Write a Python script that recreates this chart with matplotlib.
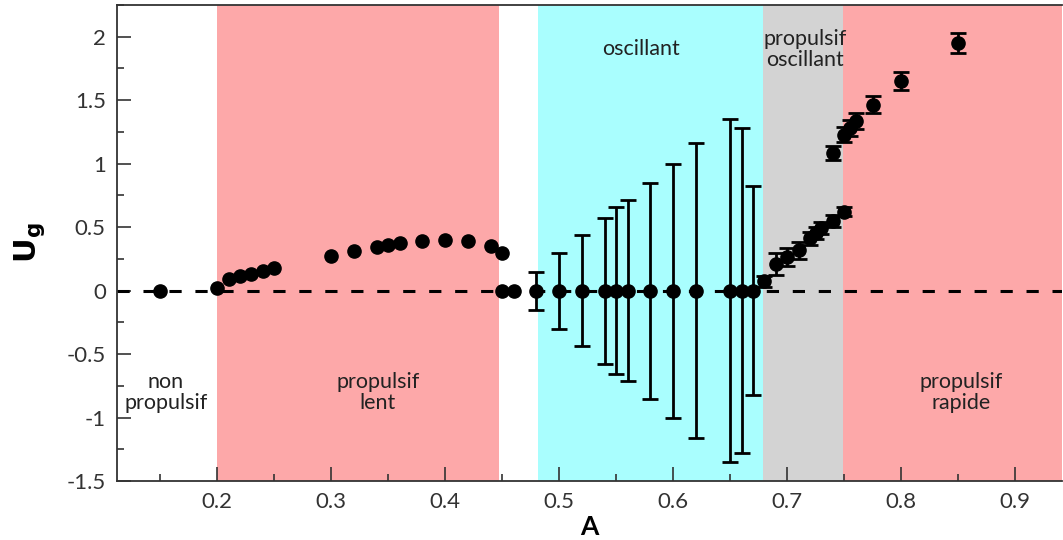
import numpy as np
import matplotlib
matplotlib.use('agg')
import matplotlib.pyplot as plt
from matplotlib.ticker import MultipleLocator

plt.rcParams['font.family'] = ['Lato', 'DejaVu Sans']

## data
# slow propulsion branch (no error bars)
A_lent = [0.15, 0.20, 0.21, 0.22, 0.23, 0.24, 0.25, 0.30, 0.32, 0.34, 0.35,
          0.36, 0.38, 0.40, 0.42, 0.44, 0.45, 0.45, 0.46]
U_lent = [0.0, 0.02, 0.094, 0.113, 0.13, 0.157, 0.179, 0.276, 0.315, 0.344, 0.36,
          0.372, 0.391, 0.399, 0.391, 0.349, 0.297, 0.0, 0.0]
# oscillating regime: zero mean, large spread
A_osc = [0.48, 0.50, 0.52, 0.54, 0.55, 0.56, 0.58, 0.60, 0.62, 0.65, 0.66, 0.67]
U_osc = [0.0] * len(A_osc)
err_osc = [0.15, 0.30, 0.435, 0.575, 0.655, 0.715, 0.85, 1.0, 1.16, 1.35, 1.28, 0.82]
# propulsive (oscillating then fast)
A_prop = [0.68, 0.69, 0.70, 0.71, 0.72, 0.725, 0.73, 0.74, 0.75,
          0.74, 0.75, 0.755, 0.76, 0.775, 0.80, 0.85]
U_prop = [0.073, 0.21, 0.265, 0.317, 0.412, 0.454, 0.494, 0.549, 0.622,
          1.084, 1.228, 1.281, 1.339, 1.465, 1.648, 1.95]
err_prop = [0.045, 0.09, 0.07, 0.065, 0.05, 0.05, 0.05, 0.045, 0.035,
            0.057, 0.06, 0.06, 0.063, 0.07, 0.07, 0.08]

# regime boundaries in A
regions = [(0.20, 0.447, '#fda8a9'), (0.481, 0.679, '#a9fefe'),
           (0.679, 0.749, '#d3d3d3'), (0.749, 0.95, '#fda8a9')]
labels = [(0.155, -0.8, 'non\npropulsif'), (0.341, -0.8, 'propulsif\nlent'),
          (0.572, 1.9, 'oscillant'), (0.716, 1.9, 'propulsif\noscillant'),
          (0.853, -0.8, 'propulsif\nrapide')]

fig = plt.figure(figsize=(10.63, 5.40), dpi=100)
ax = fig.add_axes([0.110, 0.109, 0.889, 0.882])

for x0, x1, c in regions:
    ax.axvspan(x0, x1, color=c, lw=0, zorder=0)
for x, y, s in labels:
    ax.text(x, y, s, ha='center', va='center', fontsize=15.5, color='#222222',
            linespacing=1.05, zorder=1)

ax.axhline(0, color='black', lw=2.2, ls=(0, (4.0, 4.5)), zorder=2)

ax.plot(A_lent, U_lent, 'o', color='black', ms=9.5, zorder=4)
ax.errorbar(A_osc, U_osc, yerr=err_osc, fmt='o', color='black', ms=9.5,
            elinewidth=2, capsize=6, capthick=2, zorder=4)
ax.errorbar(A_prop, U_prop, yerr=err_prop, fmt='o', color='black', ms=9.5,
            elinewidth=2, capsize=6, capthick=2, zorder=4)

ax.set_xlim(0.112, 0.941)
ax.set_ylim(-1.5, 2.25)
ax.xaxis.set_major_locator(MultipleLocator(0.1))
ax.xaxis.set_minor_locator(MultipleLocator(0.05))
ax.yaxis.set_major_locator(MultipleLocator(0.5))
ax.yaxis.set_minor_locator(MultipleLocator(0.25))
ax.set_xticks(np.arange(0.2, 0.95, 0.1))
ax.set_xticklabels(['0.2', '0.3', '0.4', '0.5', '0.6', '0.7', '0.8', '0.9'])
ax.set_yticks(np.arange(-1.5, 2.01, 0.5))
ax.set_yticklabels(['-1.5', '-1', '-0.5', '0', '0.5', '1', '1.5', '2'])
ax.tick_params(which='major', direction='in', length=10, width=1.2,
               labelsize=16, colors='#333333', pad=8)
ax.tick_params(which='minor', direction='in', length=5, width=1.2, colors='#333333')
ax.tick_params(top=False, right=False)
for s in ['left', 'bottom', 'top']:
    ax.spines[s].set_linewidth(1.3)
    ax.spines[s].set_color('#333333')
ax.spines['right'].set_visible(False)

ax.set_xlabel('A', fontsize=19, fontweight='bold', labelpad=2)
ax.set_ylabel(r'$\mathbf{U_g}$', fontsize=22, labelpad=14)

plt.savefig('out.png', dpi=100)
